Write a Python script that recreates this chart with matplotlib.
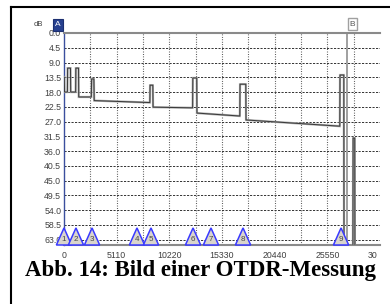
import matplotlib
matplotlib.use('Agg')
import matplotlib.pyplot as plt
from matplotlib.patches import Polygon, Rectangle
from matplotlib.lines import Line2D

# ---------------- data ----------------
y_ticks = [0.0, 4.5, 9.0, 13.5, 18.0, 22.5, 27.0, 31.5, 36.0, 40.5, 45.0, 49.5, 54.0, 58.5, 63.0]
y_tick_labels = ["%.1f" % v for v in y_ticks]
x_ticks = [0, 5110, 10220, 15330, 20440, 25550, 30660]
x_tick_labels = [str(v) for v in x_ticks]
x_grid = [2555, 5110, 7665, 10220, 12775, 15330, 17885, 20440, 22995, 25550, 28105]

trace_dist = [0, 30, 50, 330, 350, 630, 650, 1130, 1150, 1410, 1430, 2650, 2680,
              2900, 2930, 8330, 8350, 8620, 8640, 12480, 12500, 12880, 12900,
              17060, 17080, 17640, 17660, 26760, 26780, 27150, 27170, 28030,
              28050, 28210, 28230, 30660]
trace_db = [13.4, 13.4, 18.0, 18.0, 10.7, 10.7, 18.0, 18.0, 10.7, 10.7, 19.5, 19.5, 14.0,
            14.0, 20.6, 21.2, 15.9, 15.9, 22.6, 22.8, 13.7, 13.7, 24.4,
            25.3, 15.6, 15.6, 26.5, 28.4, 12.8, 12.8, 70.0, 70.0,
            32.0, 32.0, 70.0, 70.0]

event_dist = [0, 1160, 2720, 7080, 8440, 12520, 14260, 17370, 26880]
event_labels = ["1", "2", "3", "4", "5", "6", "7", "8", "9"]

marker_a = 0
marker_b = 27460
caption = "Abb. 14: Bild einer OTDR-Messung"

# ---------------- figure ----------------
W, H = 390, 304
fig = plt.figure(figsize=(W / 100, H / 100), dpi=100)
fig.patch.set_facecolor('white')

ax = fig.add_axes([64 / W, 1 - 245 / H, (380 - 64) / W, (245 - 33) / H])
ax.set_xlim(0, 30660)
ax.set_ylim(64.6, 0)
ax.set_facecolor('white')

ax.spines['right'].set_visible(False)
ax.spines['top'].set_color('#8a8a8a')
ax.spines['top'].set_linewidth(1.5)
ax.spines['bottom'].set_color('#8a8a8a')
ax.spines['bottom'].set_linewidth(1.5)
ax.spines['left'].set_color('#3b4f9e')
ax.spines['left'].set_linewidth(1.0)

# grid
for v in y_ticks[1:]:
    ax.axhline(v, color='#333333', lw=0.7, linestyle=(0, (2.2, 1.4)), zorder=1)
for v in x_grid:
    ax.axvline(v, color='#333333', lw=0.8, linestyle=(0, (0.7, 1.5)), zorder=1)

# ticks
ax.set_yticks(y_ticks)
ax.set_yticklabels(y_tick_labels)
ax.set_xticks(x_ticks)
ax.set_xticklabels(x_tick_labels)
ax.tick_params(axis='both', length=0, labelsize=6.3, labelcolor='#404040')
ax.tick_params(axis='y', pad=2)
ax.tick_params(axis='x', pad=4.5)
for lbl in ax.get_xticklabels() + ax.get_yticklabels():
    lbl.set_fontfamily('Liberation Sans')

# the original screenshot is cropped right after "30" of the last tick label
fig.patches.append(Rectangle((377 / W, 1 - 263 / H), 14 / W, 16 / H,
                             transform=fig.transFigure, facecolor='white',
                             edgecolor='none', zorder=20))

# B marker line
ax.axvline(marker_b, color='#a0a0a0', lw=1.4, zorder=2)

# trace
ax.plot(trace_dist, trace_db, color='#b0b0b0', lw=1.6, zorder=3, solid_joinstyle='miter')
ax.plot(trace_dist, trace_db, color='#3c3c3c', lw=0.75, zorder=4, solid_joinstyle='miter')

# event triangles
half_w = 740
tri_h = 5.2
y_base = 64.6
for d, lab in zip(event_dist, event_labels):
    tri = Polygon([[d - half_w, y_base], [d, y_base - tri_h], [d + half_w, y_base]],
                  closed=True, facecolor='#d9d5cc', edgecolor='#3a3aff', lw=1.1,
                  zorder=6, clip_on=False)
    ax.add_patch(tri)
    ax.text(d, y_base - 1.6, lab, ha='center', va='center', fontsize=5.8,
            color='#444444', zorder=7, family='Liberation Sans')

# "dB" label and marker boxes
fig.text(38 / W, 1 - 24 / H, "dB", fontsize=5.5, color='#404040', ha='center',
         va='center', family='Liberation Sans')
fig.patches.append(Rectangle((53 / W, 1 - 31 / H), 10 / W, 12 / H, transform=fig.transFigure,
                             facecolor='#27408f', edgecolor='#1c2f70', lw=0.8))
fig.text(58 / W, 1 - 25 / H, "A", fontsize=6, color='white', ha='center', va='center',
         family='Liberation Sans')
fig.patches.append(Rectangle((348 / W, 1 - 30 / H), 9 / W, 12 / H, transform=fig.transFigure,
                             facecolor='white', edgecolor='#a0a0a0', lw=1.0))
fig.text(352.5 / W, 1 - 24 / H, "B", fontsize=6, color='#555555', ha='center', va='center',
         family='Liberation Sans')

# caption
fig.text(201 / W, 1 - 276 / H, caption, fontsize=16.5, fontweight='bold',
         family='Liberation Serif', ha='center', va='baseline', color='black')

# outer border (left and top visible, rest cropped)
fig.lines.append(Line2D([10.5 / W, 1.0], [1 - 7 / H, 1 - 7 / H], transform=fig.transFigure,
                        color='black', lw=1.5))
fig.lines.append(Line2D([10.5 / W, 10.5 / W], [0, 1 - 7 / H], transform=fig.transFigure,
                        color='black', lw=1.5))

fig.savefig('out.png', dpi=100, facecolor='white')
